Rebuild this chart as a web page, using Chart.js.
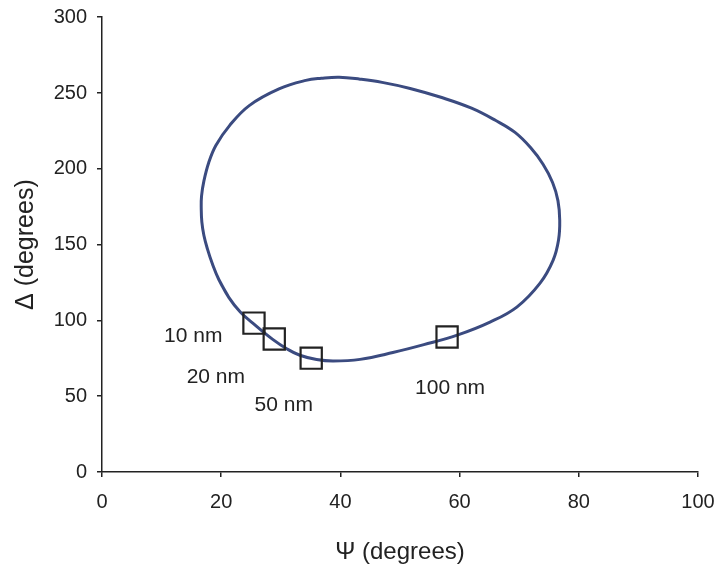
<!DOCTYPE html>
<html>
<head>
<meta charset="utf-8">
<script src="https://cdn.jsdelivr.net/npm/chart.js@4.4.1/dist/chart.umd.min.js"></script>
<style>
  html, body { margin: 0; padding: 0; background: #fff; }
  #wrap { width: 719px; height: 567px; }
</style>
</head>
<body>
<div id="wrap"><canvas id="chart" width="719" height="567"></canvas></div>
<script>
// loop (Psi, Delta), last two points repeat the first two to close it
const curvePsi = [19.6, 21.3, 23.2, 25.3, 28.7, 31.0, 33.2, 36.0, 38.8, 43.3, 48.8, 54.0, 59.6, 65.1, 69.6, 73.5, 75.7, 76.6, 76.8, 76.5, 75.6, 74.0, 71.9, 69.3, 66.0, 62.0, 57.0, 51.7, 47.0, 43.3, 39.8, 36.8, 34.2, 29.7, 24.7, 21.4, 19.1, 17.9, 17.1, 16.7, 16.65, 16.75, 17.1, 17.7, 18.5, 19.6, 21.3];
const curveDelta = [127.0, 115.0, 105.5, 98.2, 87.3, 81.3, 77.0, 74.2, 73.2, 74.3, 78.8, 84.0, 90.3, 98.9, 108.8, 124.6, 139.8, 153.0, 166.0, 179.0, 191.0, 203.0, 214.0, 224.0, 232.0, 240.0, 247.0, 253.0, 257.0, 259.1, 260.4, 259.7, 258.3, 252.7, 241.7, 228.5, 215.4, 204.0, 192.0, 182.0, 174.0, 165.0, 156.0, 147.0, 137.5, 127.0, 115.0];

// film thickness markers
const markerPsi = [25.5, 28.9, 35.1, 57.9];
const markerDelta = [98.2, 87.7, 75.1, 89.0];
const markerLabels = ["10 nm", "20 nm", "50 nm", "100 nm"];
const labelPsi = [15.3, 19.1, 30.5, 58.4];
const labelDelta = [89.7, 62.6, 44.2, 55.4];

const xTicks = [0, 20, 40, 60, 80, 100];
const yTicks = [0, 50, 100, 150, 200, 250, 300];

const ink = '#222222';
const lineBlue = '#3b4b80';
const sans = '"Liberation Sans", Arial, sans-serif';

const curvePts = curvePsi.map((x, i) => ({ x: x, y: curveDelta[i] }));
const markerPts = markerPsi.map((x, i) => ({ x: x, y: markerDelta[i] }));

// text labels next to the markers
const labelPlugin = {
    id: 'nmLabels',
    afterDatasetsDraw(chart) {
        const ctx = chart.ctx;
        const xs = chart.scales.x, ys = chart.scales.y;
        ctx.save();
        ctx.font = '21px ' + sans;
        ctx.fillStyle = ink;
        ctx.textAlign = 'center';
        ctx.textBaseline = 'middle';
        markerLabels.forEach((t, i) => {
            ctx.fillText(t, xs.getPixelForValue(labelPsi[i]), ys.getPixelForValue(labelDelta[i]));
        });
        ctx.restore();
    }
};

new Chart(document.getElementById('chart'), {
    type: 'scatter',
    data: {
        datasets: [
            {
                data: markerPts,
                showLine: false,
                pointStyle: 'rect',
                pointRadius: 15,
                pointBorderWidth: 2.2,
                pointBorderColor: ink,
                pointBackgroundColor: 'rgba(0,0,0,0)'
            },
            {
                data: curvePts,
                showLine: true,
                borderColor: lineBlue,
                borderWidth: 3,
                tension: 0.4,
                pointRadius: 0,
                fill: false
            }
        ]
    },
    options: {
        responsive: false,
        animation: false,
        layout: { padding: { top: 17, right: 21, left: 0, bottom: 0 } },
        plugins: { legend: { display: false }, tooltip: { enabled: false } },
        scales: {
            x: {
                type: 'linear',
                min: 0, max: 100,
                afterFit: s => { s.height = 95; s.paddingLeft = 0; s.paddingRight = 0; },
                afterBuildTicks: s => { s.ticks = xTicks.map(v => ({ value: v })); },
                grid: { drawOnChartArea: false, drawTicks: true, tickLength: 5, color: ink, lineWidth: 1.5 },
                border: { display: true, color: ink, width: 1.5 },
                ticks: { color: ink, padding: 13, font: { family: sans, size: 20 } },
                title: {
                    display: true,
                    text: 'Ψ (degrees)',
                    color: ink,
                    padding: { top: 0, bottom: 0 },
                    font: { family: sans, size: 24 }
                }
            },
            y: {
                type: 'linear',
                min: 0, max: 300,
                afterFit: s => { s.width = 102; s.paddingTop = 0; s.paddingBottom = 0; },
                afterBuildTicks: s => { s.ticks = yTicks.map(v => ({ value: v })); },
                grid: { drawOnChartArea: false, drawTicks: true, tickLength: 5, color: ink, lineWidth: 1.5 },
                border: { display: true, color: ink, width: 1.5 },
                ticks: { color: ink, padding: 10, font: { family: sans, size: 20 } },
                title: {
                    display: true,
                    text: 'Δ (degrees)',
                    color: ink,
                    padding: { top: 11, bottom: 0 },
                    font: { family: sans, size: 25 }
                }
            }
        }
    },
    plugins: [labelPlugin]
});
</script>
</body>
</html>
